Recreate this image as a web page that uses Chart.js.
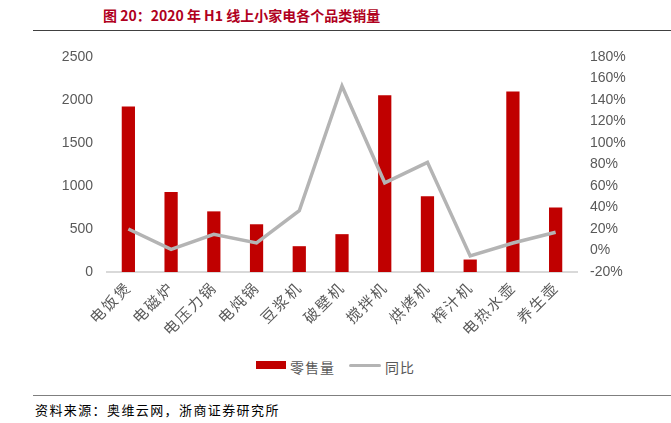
<!DOCTYPE html>
<html>
<head>
<meta charset="utf-8">
<script src="https://cdn.jsdelivr.net/npm/chart.js@4"></script>
<style>
  body { margin: 0; background: #fff; }
  #wrap { position: relative; width: 671px; height: 423px; overflow: hidden; font-family: "Noto Sans CJK SC", sans-serif; }
  #title { position: absolute; left: 103px; top: 5px; font-size: 14px; font-weight: bold; color: #B00020; white-space: nowrap; }
  #rule1 { position: absolute; left: 33px; right: 0; top: 30px; height: 1px; background: #404040; }
  #rule2 { position: absolute; left: 33px; right: 0; top: 395px; height: 1px; background: #7f7f7f; }
  #source { position: absolute; left: 35px; top: 400px; font-size: 13px; letter-spacing: 1.4px; color: #000; white-space: nowrap; }
  #chart { position: absolute; left: 0; top: 0; }
  .leg { position: absolute; top: 357px; font-size: 14px; letter-spacing: 1px; color: #595959; white-space: nowrap; }
  .sw { position: absolute; }
</style>
</head>
<body>
<div id="wrap">
  <div id="title">图 20：2020 年 H1 线上小家电各个品类销量</div>
  <div id="rule1"></div>
  <canvas id="chart" width="671" height="345"></canvas>
  <div class="sw" style="left:256px; top:361px; width:30px; height:8px; background:#C00000;"></div>
  <div class="leg" style="left:290px;">零售量</div>
  <div class="sw" style="left:349px; top:364px; width:32px; height:3px; background:#B4B4B4; border-radius:2px;"></div>
  <div class="leg" style="left:385px;">同比</div>
  <div id="rule2"></div>
  <div id="source">资料来源：奥维云网，浙商证券研究所</div>
</div>
<script>
const categories = ["电饭煲", "电磁炉", "电压力锅", "电炖锅", "豆浆机", "破壁机", "搅拌机", "烘烤机", "榨汁机", "电热水壶", "养生壶"];
const salesValues = [1925, 930, 705, 555, 300, 440, 2055, 880, 145, 2100, 750];
const yoyValues = [20, 1, 15, 7, 37, 153, 63, 82, -5, 7, 17];
const leftTicks = [0, 500, 1000, 1500, 2000, 2500];
const rightTicks = [-20, 0, 20, 40, 60, 80, 100, 120, 140, 160, 180];

const tickFont = { family: "Liberation Sans, Arial, sans-serif", size: 14 };
const tickColor = "#595959";

// spread out the rotated category labels a little, like the original
const spacedLabels = {
  id: "spacedLabels",
  afterLayout(chart) {
    const sc = chart.scales.x;
    if (sc._spaced) return;
    const orig = sc.drawLabels;
    sc.drawLabels = function (area) {
      chart.ctx.save();
      chart.ctx.letterSpacing = "2px";
      orig.call(this, area);
      chart.ctx.restore();
    };
    sc._spaced = true;
  },
};

new Chart(document.getElementById("chart").getContext("2d"), {
  data: {
    labels: categories,
    datasets: [
      {
        type: "line",
        label: "同比",
        data: yoyValues,
        yAxisID: "y1",
        borderColor: "#B4B4B4",
        borderWidth: 3.5,
        pointRadius: 0,
        tension: 0,
        order: 0,
      },
      {
        type: "bar",
        label: "零售量",
        data: salesValues,
        yAxisID: "y",
        backgroundColor: "#C00000",
        barPercentage: 0.31,
        categoryPercentage: 1,
        order: 1,
      },
    ],
  },
  options: {
    responsive: false,
    animation: false,
    layout: { padding: { top: 57, left: 0, right: 0, bottom: 0 } },
    plugins: { legend: { display: false }, tooltip: { enabled: false } },
    scales: {
      x: {
        grid: { display: false, drawTicks: false },
        border: { color: "#D9D9D9", width: 2 },
        ticks: {
          color: tickColor,
          font: { family: "Noto Sans CJK SC", size: 15 },
          minRotation: 45,
          maxRotation: 45,
          padding: 6,
        },
        afterFit: function (scale) { scale.height = 73; },
      },
      y: {
        position: "left",
        min: 0,
        max: 2500,
        afterBuildTicks: function (scale) { scale.ticks = leftTicks.map(v => ({ value: v })); },
        grid: { display: false, drawTicks: false },
        border: { display: false },
        ticks: { color: tickColor, font: tickFont, padding: 14, callback: v => String(v) },
        afterFit: function (scale) { scale.width = 107; },
      },
      y1: {
        position: "right",
        min: -20,
        max: 180,
        afterBuildTicks: function (scale) { scale.ticks = rightTicks.map(v => ({ value: v })); },
        grid: { display: false, drawTicks: false },
        border: { display: false },
        ticks: { color: tickColor, font: tickFont, padding: 13, callback: v => v + "%" },
        afterFit: function (scale) { scale.width = 94; },
      },
    },
  },
  plugins: [spacedLabels],
});
</script>
</body>
</html>
